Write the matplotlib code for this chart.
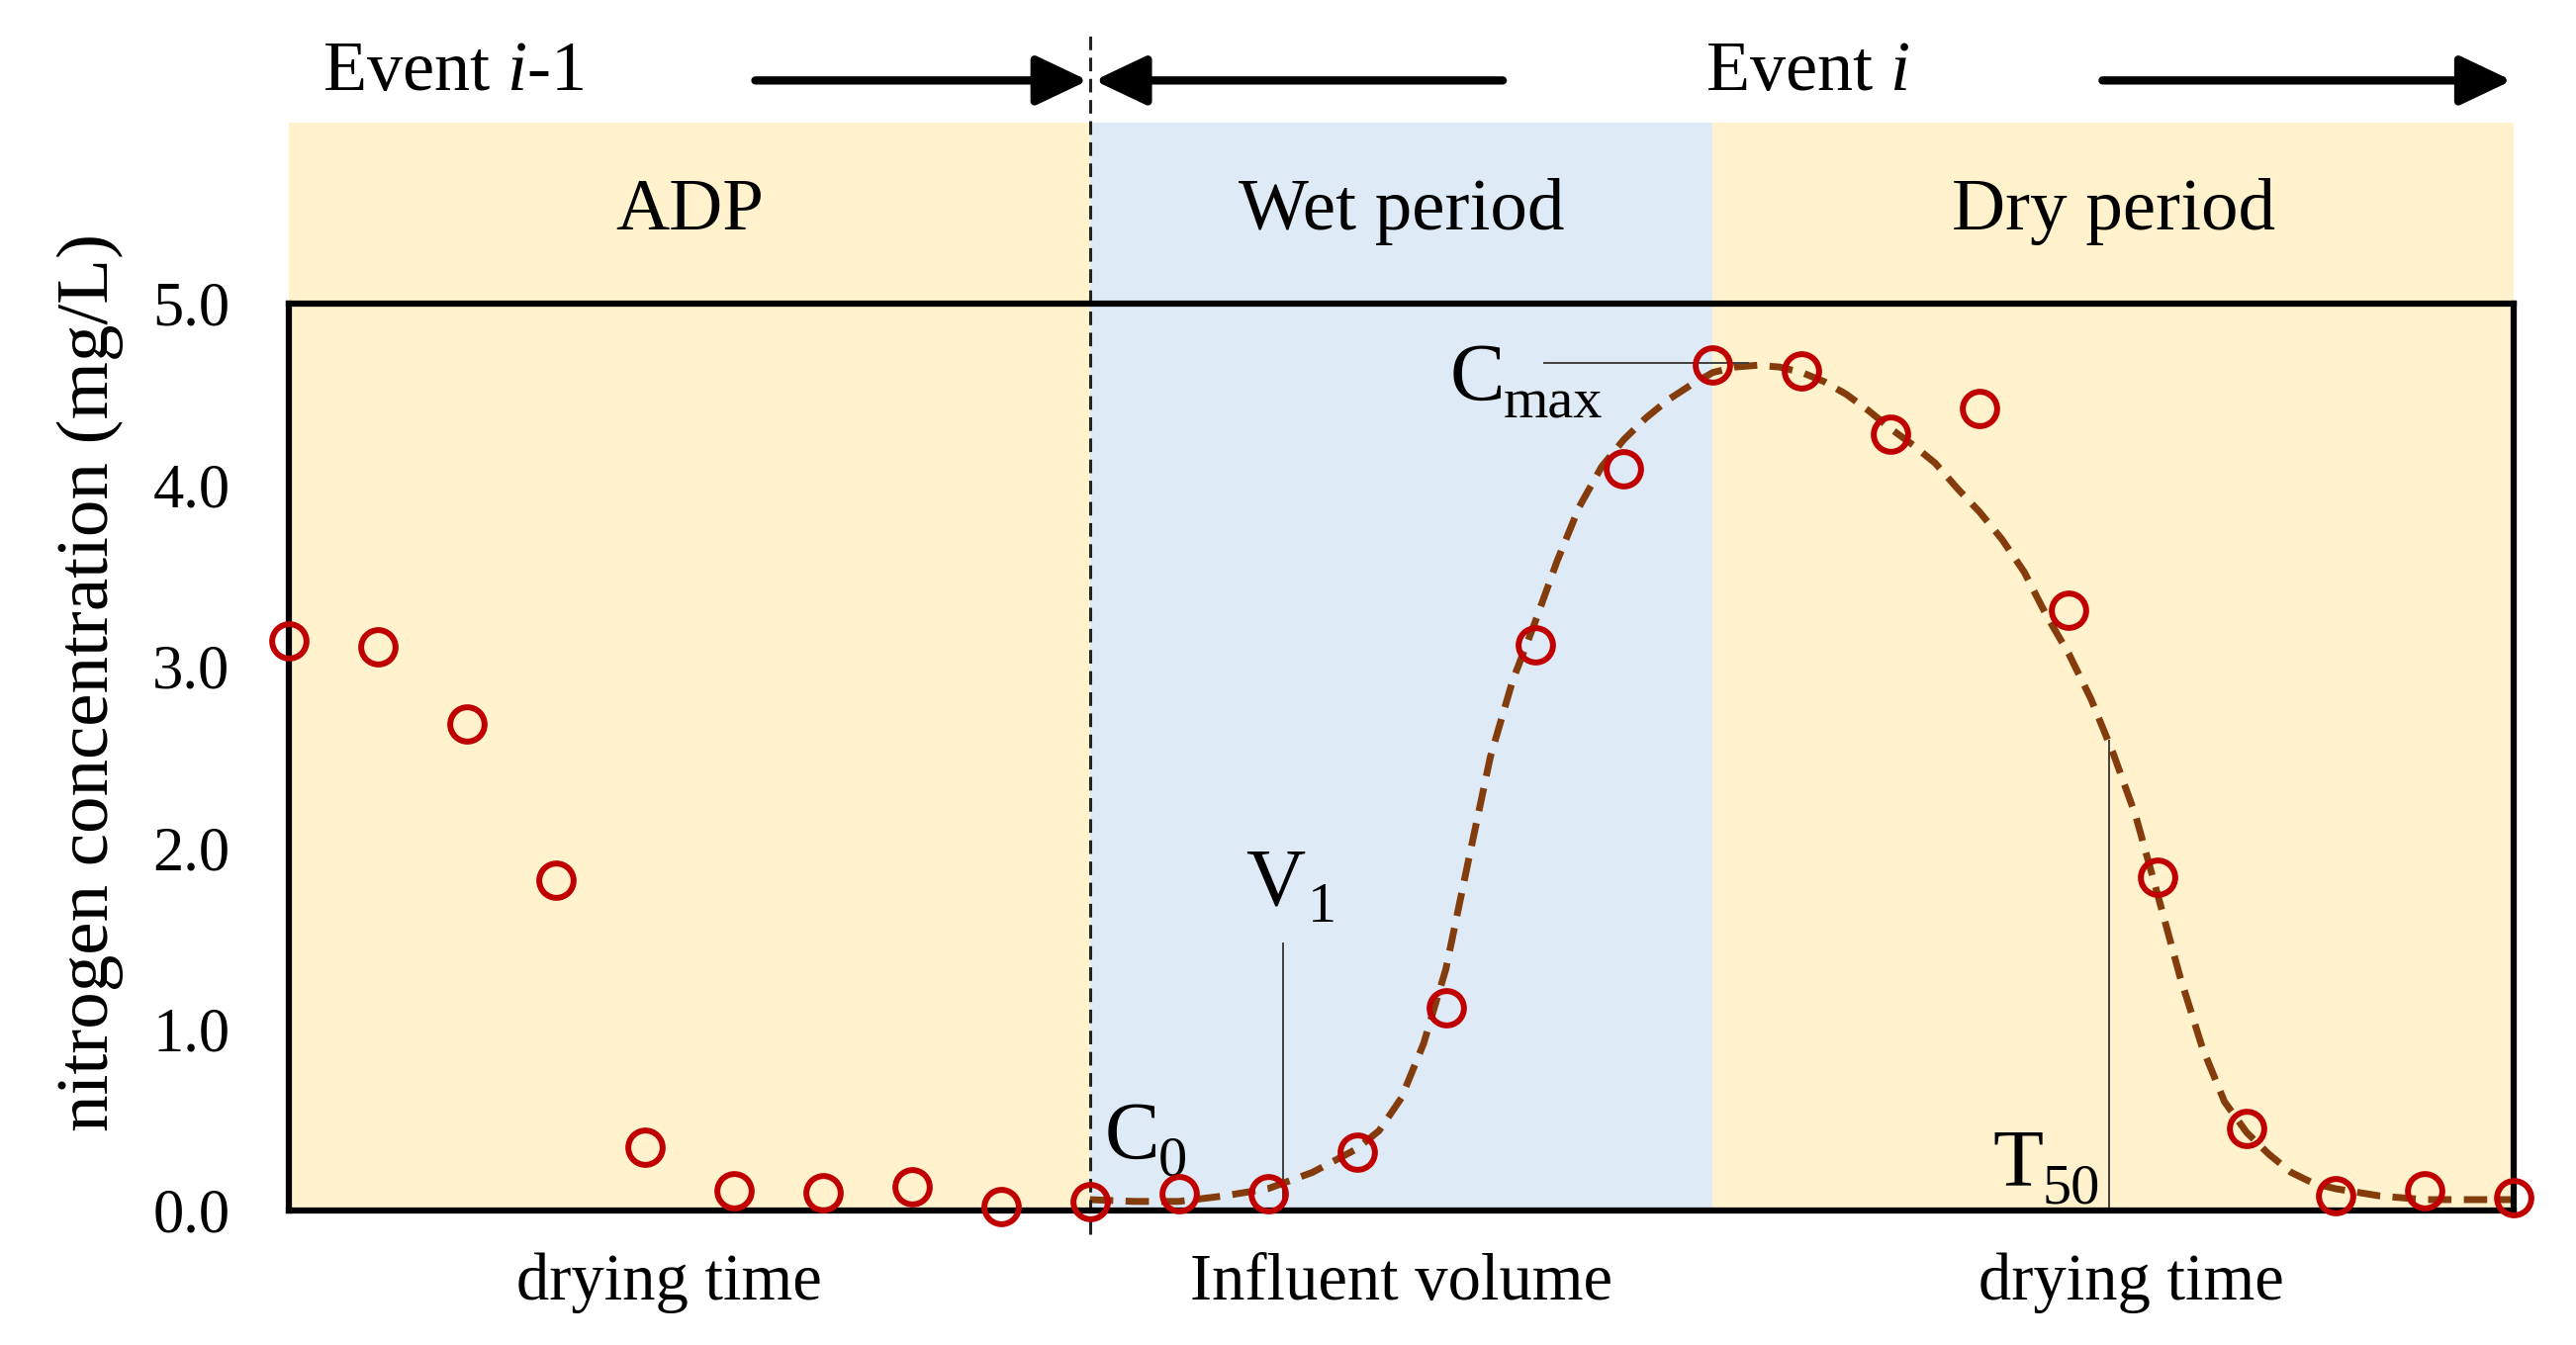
import matplotlib
matplotlib.use("Agg")
import matplotlib.pyplot as plt
from matplotlib.patches import Rectangle

plt.rcParams['font.family'] = ['Liberation Serif', 'DejaVu Serif']
plt.rcParams['mathtext.fontset'] = 'custom'
plt.rcParams['mathtext.rm'] = 'Liberation Serif'
plt.rcParams['mathtext.it'] = 'Liberation Serif:italic'

# measured points (sample index vs concentration)
obs_x = list(range(26))
obs_y = [3.14, 3.11, 2.68, 1.82, 0.35, 0.11, 0.10, 0.13, 0.02, 0.05,
         0.09, 0.09, 0.32, 1.12, 3.12, 4.09, 4.66, 4.63, 4.28, 4.42,
         3.31, 1.84, 0.45, 0.08, 0.11, 0.07]

# fitted curve
fit_x = [9, 9.5, 10, 10.5, 11, 11.5, 12, 12.25, 12.5, 12.75, 13, 13.25,
         13.5, 13.75, 14, 14.25, 14.5, 14.75, 15, 15.25, 15.5, 15.75, 16,
         16.25, 16.5, 16.75, 17, 17.25, 17.5, 17.75, 18, 18.25, 18.5, 18.75,
         19, 19.25, 19.5, 19.75, 20, 20.25, 20.5, 20.75, 21, 21.25, 21.5,
         21.75, 22, 22.25, 22.5, 22.75, 23, 23.5, 24, 24.5, 25]
fit_y = [0.06, 0.05, 0.05, 0.08, 0.12, 0.21, 0.34, 0.44, 0.62, 0.92, 1.33,
         1.92, 2.50, 2.92, 3.24, 3.58, 3.88, 4.10, 4.25, 4.37, 4.47, 4.55,
         4.62, 4.65, 4.66, 4.65, 4.62, 4.57, 4.50, 4.41, 4.31, 4.22, 4.12,
         3.98, 3.85, 3.70, 3.52, 3.28, 3.07, 2.82, 2.52, 2.18, 1.74, 1.29,
         0.90, 0.60, 0.43, 0.31, 0.21, 0.15, 0.12, 0.08, 0.06, 0.06, 0.06]

periods = ["ADP", "Wet period", "Dry period"]
period_edges = [0, 9, 16, 25]
period_colors = ["#FFF2CC", "#DEEBF7", "#FFF2CC"]
bottom_labels = ["drying time", "Influent volume", "drying time"]
yticks = [0, 1, 2, 3, 4, 5]

fig = plt.figure(figsize=(26.04, 13.6), dpi=100)
ax = fig.add_axes([0.1122, 0.1, 0.9758 - 0.1122, 0.6743])
ax.set_xlim(0, 25)
ax.set_ylim(0, 5)
ax.patch.set_alpha(0)

# shaded periods, extending above the frame
for i in range(3):
    ax.add_patch(Rectangle((period_edges[i], 0), period_edges[i+1] - period_edges[i], 6,
                           facecolor=period_colors[i], edgecolor='none',
                           clip_on=False, zorder=0))
    mid = (period_edges[i] + period_edges[i+1]) / 2
    ax.text(mid, 5.41, periods[i], ha='center', va='baseline', fontsize=54)

ax.text(4.27, -0.49, bottom_labels[0], ha='center', va='baseline', fontsize=48)
ax.text(12.5, -0.49, bottom_labels[1], ha='center', va='baseline', fontsize=48)
ax.text(20.7, -0.49, bottom_labels[2], ha='center', va='baseline', fontsize=48)

# event divider
ax.plot([9, 9], [-0.13, 6.49], color='#222222', lw=2.2, ls=(0, (4.5, 2.5)),
        clip_on=False, zorder=4)

# event arrows
astyle = dict(arrowstyle='-|>,head_length=0.8,head_width=0.38', lw=6,
              color='black', shrinkA=0, shrinkB=0, mutation_scale=40)
ax.annotate('', xy=(8.98, 6.23), xytext=(5.24, 6.23), arrowprops=astyle,
            annotation_clip=False)
ax.annotate('', xy=(9.05, 6.23), xytext=(13.64, 6.23), arrowprops=astyle,
            annotation_clip=False)
ax.annotate('', xy=(24.98, 6.23), xytext=(20.38, 6.23), arrowprops=astyle,
            annotation_clip=False)
ax.text(1.85, 6.18, r'Event $\mathit{i}$-1', ha='center', va='baseline', fontsize=52)
ax.text(17.06, 6.18, r'Event $\mathit{i}$', ha='center', va='baseline', fontsize=52)

# fitted curve and observations
ax.plot(fit_x, fit_y, color='#843C0C', lw=5, ls=(0, (3.4, 1.8)), zorder=3,
        clip_on=False)
ax.plot(obs_x, obs_y, 'o', ms=25, mfc='none', mec='#C00000', mew=4.3,
        zorder=5, clip_on=False)

# annotation guide lines
ax.plot([11.17, 11.17], [0, 1.47], color='#404040', lw=1.4, zorder=4)
ax.plot([20.45, 20.45], [0, 2.59], color='#404040', lw=1.4, zorder=4)
ax.plot([14.1, 16.4], [4.67, 4.67], color='#404040', lw=1.4, zorder=4)

# annotation labels: big letter + lowered subscript
def sub_label(x, y, main, sub, dx):
    ax.text(x, y, main, fontsize=60, va='baseline')
    ax.annotate(sub, xy=(x, y), xytext=(dx, -13), textcoords='offset points',
                fontsize=42, va='baseline', annotation_clip=False)

sub_label(9.16, 0.29, "C", "0", 39)
sub_label(10.75, 1.69, "V", "1", 45)
sub_label(13.05, 4.47, "C", "max", 39)
sub_label(19.15, 0.14, "T", "50", 36)

ax.set_xticks([])
ax.set_yticks(yticks)
ax.set_yticklabels(["%.1f" % v for v in yticks])
ax.tick_params(axis='y', length=0, pad=43, labelsize=45)
for s in ax.spines.values():
    s.set_linewidth(4.5)
    s.set_zorder(4)

fig.text(0.035, 0.493, "nitrogen concentration (mg/L)", rotation=90,
         ha='center', va='center', fontsize=54)

fig.savefig("out.png", dpi=100)
